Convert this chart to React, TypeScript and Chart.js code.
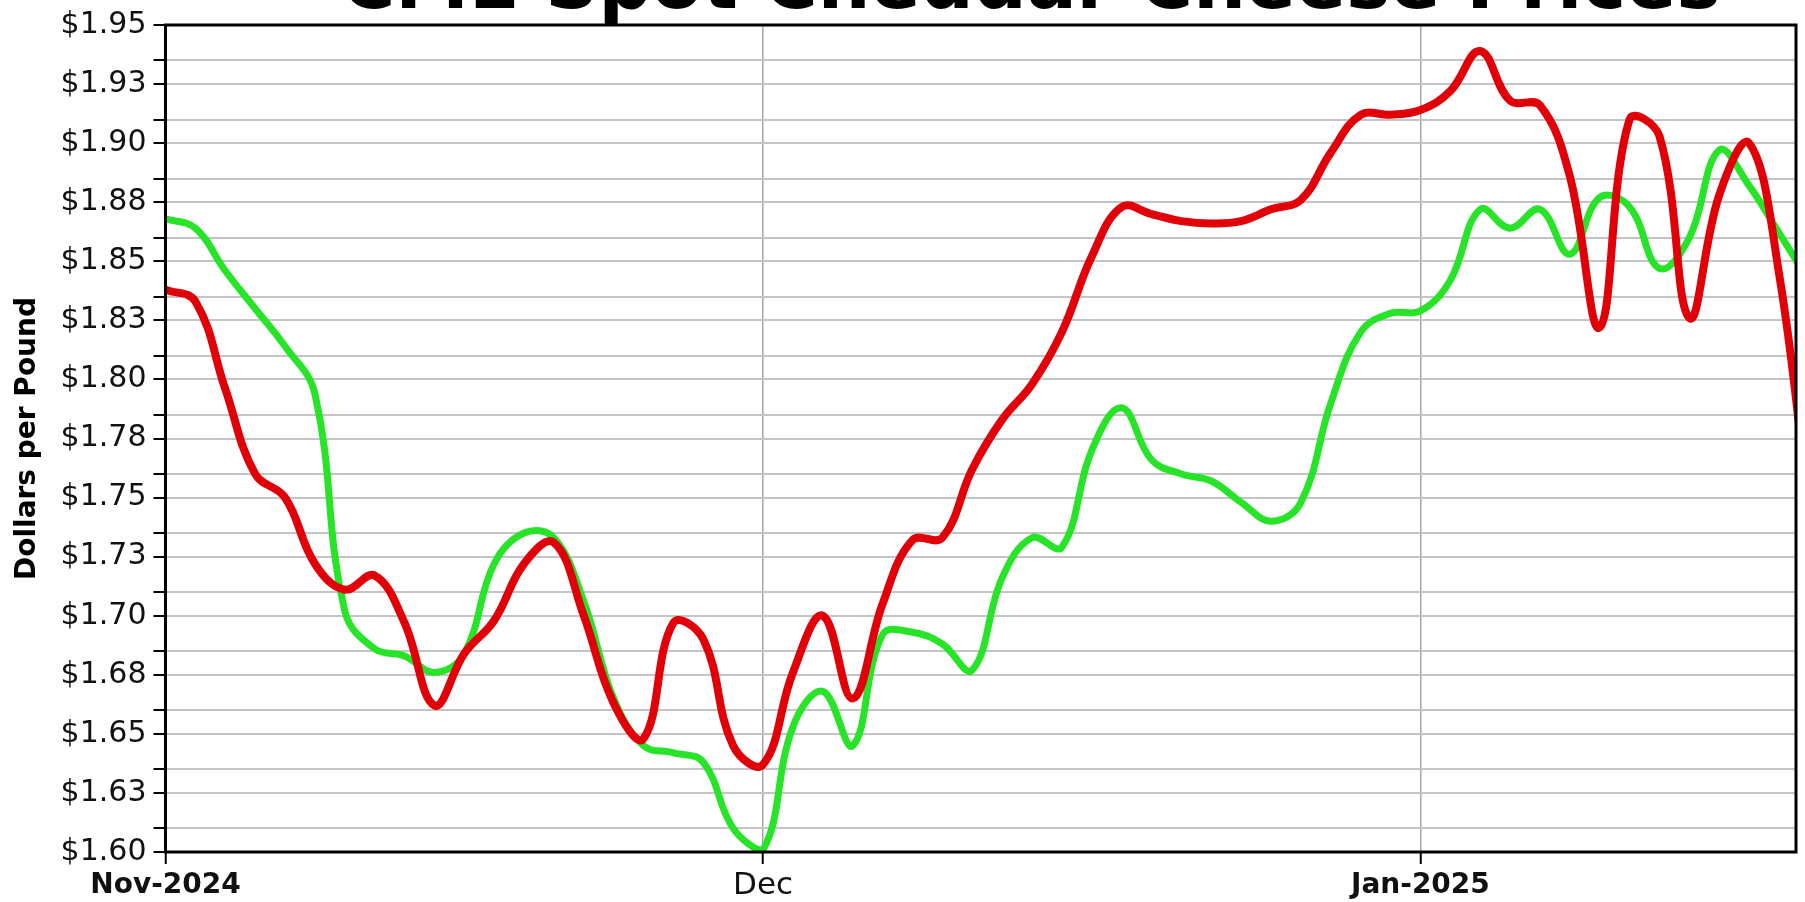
import { useEffect, useRef } from 'react';
import { Chart, registerables } from 'chart.js';

Chart.register(...registerables);

const chartTitle = 'CME Spot Cheddar Cheese Prices';
const yAxisTitle = 'Dollars per Pound';

// trading days (weekday slots) shown on the axis
const tradingDays = [
  '2024-11-01', '2024-11-04', '2024-11-05', '2024-11-06', '2024-11-07', '2024-11-08',
  '2024-11-11', '2024-11-12', '2024-11-13', '2024-11-14', '2024-11-15',
  '2024-11-18', '2024-11-19', '2024-11-20', '2024-11-21', '2024-11-22',
  '2024-11-25', '2024-11-26', '2024-11-27', '2024-11-29',
  '2024-12-02', '2024-12-03', '2024-12-04', '2024-12-05', '2024-12-06',
  '2024-12-09', '2024-12-10', '2024-12-11', '2024-12-12', '2024-12-13',
  '2024-12-16', '2024-12-17', '2024-12-18', '2024-12-19', '2024-12-20',
  '2024-12-23', '2024-12-24', '2024-12-25', '2024-12-26', '2024-12-27',
  '2024-12-30', '2024-12-31',
  '2025-01-01', '2025-01-02', '2025-01-03', '2025-01-06', '2025-01-07', '2025-01-08',
  '2025-01-09', '2025-01-10', '2025-01-13', '2025-01-14', '2025-01-15', '2025-01-16',
  '2025-01-17', '2025-01-20',
];

// red series
const blockPrices = [
  1.838, 1.833, 1.796, 1.760, 1.750, 1.722, 1.711, 1.717, 1.697, 1.662,
  1.684, 1.698, 1.722, 1.731, 1.700, 1.663, 1.648, 1.697, 1.690, 1.645,
  1.637, 1.676, 1.700, 1.665, 1.705, 1.732, 1.733, 1.762, 1.783, 1.798,
  1.820, 1.852, 1.873, 1.870, 1.867, 1.866, 1.867, 1.872, 1.876, 1.896,
  1.912, 1.912, 1.914, 1.922, 1.939, 1.918, 1.916, 1.886, 1.822, 1.910,
  1.903, 1.826, 1.878, 1.900, 1.845, 1.745,
];

// green series
const barrelPrices = [
  1.868, 1.864, 1.846, 1.830, 1.814, 1.794, 1.702, 1.686, 1.683, 1.676,
  1.684, 1.722, 1.735, 1.733, 1.706, 1.665, 1.645, 1.642, 1.638, 1.610,
  1.601, 1.653, 1.668, 1.645, 1.692, 1.693, 1.688, 1.677, 1.716, 1.733,
  1.729, 1.770, 1.788, 1.766, 1.760, 1.757, 1.748, 1.740, 1.748, 1.790,
  1.820, 1.828, 1.829, 1.842, 1.872, 1.864, 1.872, 1.853, 1.877, 1.873,
  1.847, 1.860, 1.897, 1.882, 1.862, 1.842,
];

const xTickDays = ['2024-11-01', '2024-12-02', '2025-01-01'];
const xTickLabels = ['Nov-2024', 'Dec', 'Jan-2025'];
const xAxisEnd = 54.57;

const yMin = 1.6;
const yMax = 1.95;
const yTickValues = [
  1.6, 1.625, 1.65, 1.675, 1.7, 1.725, 1.75, 1.775, 1.8, 1.825, 1.85, 1.875, 1.9, 1.925, 1.95,
];
const yTickLabels = [
  '$1.60', '$1.63', '$1.65', '$1.68', '$1.70', '$1.73', '$1.75', '$1.78',
  '$1.80', '$1.83', '$1.85', '$1.88', '$1.90', '$1.93', '$1.95',
];
const yMinorValues = [
  1.61, 1.635, 1.66, 1.685, 1.71, 1.735, 1.76, 1.785, 1.81, 1.835, 1.86, 1.885, 1.91, 1.935,
];

const FONT = '"DejaVu Sans", Verdana, sans-serif';

const framePlugin = {
  id: 'frame',
  afterDatasetsDraw(chart: any) {
    const { ctx, chartArea } = chart;
    ctx.save();
    ctx.strokeStyle = '#000';
    ctx.lineWidth = 3;
    ctx.strokeRect(chartArea.left, chartArea.top, chartArea.right - chartArea.left, chartArea.bottom - chartArea.top);
    ctx.restore();
  },
};

const cutTitlePlugin = {
  id: 'cutTitle',
  afterDraw(chart: any) {
    const { ctx, chartArea } = chart;
    ctx.save();
    ctx.font = `bold 74px ${FONT}`;
    ctx.fillStyle = '#000';
    ctx.textAlign = 'center';
    ctx.textBaseline = 'alphabetic';
    ctx.fillText(chartTitle, (chartArea.left + chartArea.right) / 2 + 50, chartArea.top - 17);
    ctx.restore();
  },
};

export default function App() {
  const canvasRef = useRef<HTMLCanvasElement | null>(null);

  useEffect(() => {
    if (!canvasRef.current) return;
    const xTickValues = xTickDays.map((d) => tradingDays.indexOf(d));
    const chart = new Chart(canvasRef.current, {
      type: 'line',
      data: {
        datasets: [
          {
            label: 'Blocks',
            data: blockPrices.map((v, i) => ({ x: i, y: v })),
            borderColor: 'rgb(226,0,8)',
            borderWidth: 8,
            pointRadius: 0,
            tension: 0.4,
            fill: false,
          },
          {
            label: 'Barrels',
            data: barrelPrices.map((v, i) => ({ x: i, y: v })),
            borderColor: 'rgb(40,228,40)',
            borderWidth: 7,
            pointRadius: 0,
            tension: 0.4,
            fill: false,
          },
        ],
      },
      options: {
        animation: false,
        responsive: true,
        maintainAspectRatio: false,
        layout: { padding: { left: 2, right: 9, top: 18, bottom: -6 } },
        plugins: {
          legend: { display: false },
          tooltip: { enabled: false },
          title: { display: false },
        },
        scales: {
          x: {
            type: 'linear',
            min: 0,
            max: xAxisEnd,
            afterBuildTicks: (scale: any) => {
              scale.ticks = xTickValues.map((v) => ({ value: v }));
            },
            ticks: {
              autoSkip: false,
              maxRotation: 0,
              padding: 8,
              color: '#111',
              callback: (value: any) => {
                const i = xTickValues.indexOf(Number(value));
                return i >= 0 ? xTickLabels[i] : '';
              },
              font: (ctx: any) => {
                const i = xTickValues.indexOf(ctx.tick ? ctx.tick.value : -1);
                const lbl = i >= 0 ? xTickLabels[i] : '';
                const bold = lbl.indexOf('-') >= 0;
                return { family: FONT, size: bold ? 28 : 31, weight: bold ? 'bold' : 'normal', lineHeight: '28px' };
              },
            },
            grid: {
              color: (ctx: any) => (ctx.tick && ctx.tick.value === 0 ? 'rgba(0,0,0,0)' : '#a6a6a6'),
              lineWidth: 1.5,
              tickColor: '#000',
              tickWidth: 2,
              tickLength: 12,
            },
            border: { display: false },
          },
          y: {
            type: 'linear',
            min: yMin,
            max: yMax,
            afterBuildTicks: (scale: any) => {
              const all = [...yTickValues, ...yMinorValues].sort((a, b) => a - b);
              scale.ticks = all.map((v) => ({ value: v }));
            },
            ticks: {
              autoSkip: false,
              padding: 7,
              color: '#111',
              font: { family: FONT, size: 30 },
              callback: (value: any) => {
                const i = yTickValues.findIndex((t) => Math.abs(t - Number(value)) < 1e-6);
                return i >= 0 ? yTickLabels[i] : '';
              },
            },
            grid: {
              color: '#c4c4c4',
              lineWidth: 2,
              tickColor: '#000',
              tickWidth: 2,
              tickLength: 12,
            },
            border: { display: false },
            title: {
              display: true,
              text: yAxisTitle,
              color: '#000',
              font: { family: FONT, size: 28, weight: 'bold' },
              padding: { top: 9, bottom: 9 },
            },
          },
        },
      },
      plugins: [framePlugin, cutTitlePlugin],
    });
    return () => chart.destroy();
  }, []);

  return (
    <div style={{ position: 'absolute', left: 0, top: 0, width: 1805, height: 902 }}>
      <canvas ref={canvasRef} />
    </div>
  );
}
